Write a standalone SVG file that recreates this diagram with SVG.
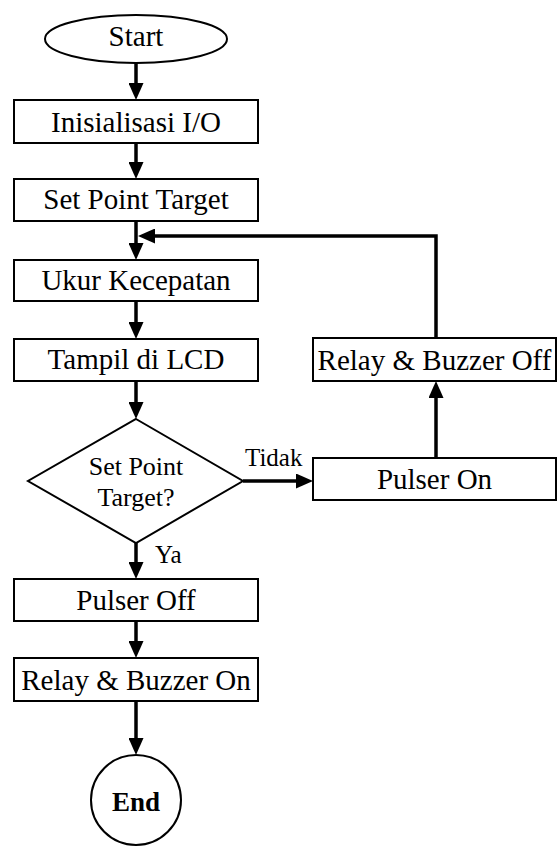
<svg xmlns="http://www.w3.org/2000/svg" width="558" height="846" viewBox="0 0 558 846">
<style>
.box{fill:#fff;stroke:#000;stroke-width:2}
text{font-family:'Liberation Serif',Tinos,'DejaVu Serif',serif;fill:#000}
.t{font-size:29px;text-anchor:middle}
.d{font-size:26px;text-anchor:middle}
.l{font-size:25px}
.c{fill:none;stroke:#000;stroke-width:3.5;marker-end:url(#ah)}
</style>
<defs>
<marker id="ah" markerUnits="userSpaceOnUse" markerWidth="17" markerHeight="15" refX="9" refY="7.5" orient="auto">
<path d="M0,0 L17,7.5 L0,15 z" fill="#000"/>
</marker>
</defs>
<rect width="558" height="846" fill="#fff"/>
<g id="connectors">
<line class="c" x1="136" y1="63" x2="136" y2="92"/>
<line class="c" x1="136" y1="143" x2="136" y2="171"/>
<line class="c" x1="136" y1="221" x2="136" y2="252"/>
<line class="c" x1="136" y1="301" x2="136" y2="331"/>
<line class="c" x1="136" y1="381" x2="136" y2="411"/>
<line class="c" x1="136" y1="543" x2="136" y2="571"/>
<line class="c" x1="136" y1="621" x2="136" y2="650"/>
<line class="c" x1="136" y1="701" x2="136" y2="747"/>
<line class="c" x1="243" y1="481" x2="305" y2="481"/>
<line class="c" x1="436" y1="458" x2="436" y2="389"/>
<polyline class="c" points="436,338 436,236 146,236"/>
<text class="l" x="245" y="466" font-family="Liberation Serif, serif">Tidak</text>
<text class="l" x="155" y="563" font-family="Liberation Serif, serif">Ya</text>
</g>
<g id="start">
<ellipse class="box" cx="136" cy="39" rx="91" ry="24"/>
<text class="t" x="136" y="46">Start</text>
</g>
<g id="init">
<rect class="box" x="14" y="100" width="244" height="43"/>
<text class="t" x="136" y="132">Inisialisasi I/O</text>
</g>
<g id="setpoint">
<rect class="box" x="14" y="179" width="244" height="42"/>
<text class="t" x="136" y="209">Set Point Target</text>
</g>
<g id="ukur">
<rect class="box" x="14" y="260" width="244" height="41"/>
<text class="t" x="136" y="290">Ukur Kecepatan</text>
</g>
<g id="tampil">
<rect class="box" x="14" y="339" width="244" height="42"/>
<text class="t" x="136" y="369">Tampil di LCD</text>
</g>
<g id="decision">
<polygon class="box" points="136,419 243,481 136,543 28,481"/>
<text class="d" x="136" y="475">Set Point</text>
<text class="d" x="136" y="506">Target?</text>
</g>
<g id="pulseroff">
<rect class="box" x="14" y="579" width="244" height="42"/>
<text class="t" x="136" y="610">Pulser Off</text>
</g>
<g id="relayon">
<rect class="box" x="14" y="658" width="244" height="43"/>
<text class="t" x="136" y="690">Relay &amp; Buzzer On</text>
</g>
<g id="end">
<circle class="box" cx="136" cy="800" r="45"/>
<text class="t" x="136" y="811" style="font-weight:bold;font-size:27px">End</text>
</g>
<g id="pulseron">
<rect class="box" x="313" y="458" width="243" height="42"/>
<text class="t" x="434.5" y="489">Pulser On</text>
</g>
<g id="relayoff">
<rect class="box" x="313" y="338" width="243" height="43"/>
<text class="t" x="434.5" y="370">Relay &amp; Buzzer Off</text>
</g>
</svg>
